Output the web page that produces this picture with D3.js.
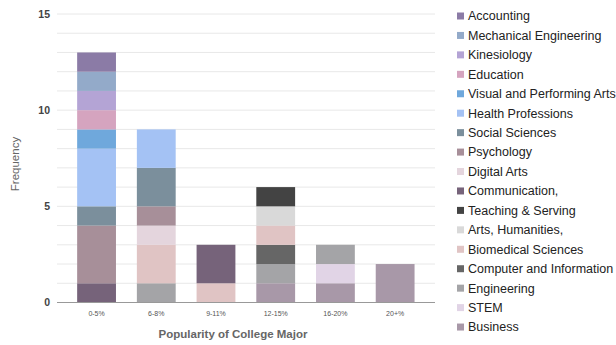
<!DOCTYPE html>
<html>
<head>
<meta charset="utf-8">
<script src="https://cdn.jsdelivr.net/npm/d3@7"></script>
<style>
  html, body { margin: 0; padding: 0; background: #fff; }
  svg { display: block; font-family: Arial, "Liberation Sans", sans-serif; }
</style>
</head>
<body>
<svg id="chart" width="616" height="345"></svg>
<script>
// Popularity buckets on the x axis
const categories = ["0-5%", "6-8%", "9-11%", "12-15%", "16-20%", "20+%"];

// Majors, listed bottom-of-stack first
const majors = [
  "Business", "STEM", "Engineering", "Computer and Information",
  "Biomedical Sciences", "Arts, Humanities,", "Teaching & Serving",
  "Communication,", "Digital Arts", "Psychology", "Social Sciences",
  "Health Professions", "Visual and Performing Arts", "Education",
  "Kinesiology", "Mechanical Engineering", "Accounting"
];

const majorColors = [
  "#a898a8", "#e1d4e6", "#a4a4a7", "#666666",
  "#e0c4c4", "#d9d9d9", "#434343",
  "#76637a", "#e4d5dd", "#a78f99", "#7b8f9c",
  "#a4c2f4", "#6fa8dc", "#d5a4bf",
  "#b4a4d5", "#93aac9", "#8b7ba6"
];

// Frequency of each major per bucket (one array per major, aligned with categories)
const Business        = [0, 0, 0, 1, 1, 2];
const STEM            = [0, 0, 0, 0, 1, 0];
const Engineering     = [0, 1, 0, 1, 1, 0];
const ComputerInfo    = [0, 0, 0, 1, 0, 0];
const Biomedical      = [0, 2, 1, 1, 0, 0];
const ArtsHumanities  = [0, 0, 0, 1, 0, 0];
const TeachingServing = [0, 0, 0, 1, 0, 0];
const Communication   = [1, 0, 2, 0, 0, 0];
const DigitalArts     = [0, 1, 0, 0, 0, 0];
const Psychology      = [3, 1, 0, 0, 0, 0];
const SocialSciences  = [1, 2, 0, 0, 0, 0];
const HealthProf      = [3, 2, 0, 0, 0, 0];
const VisualArts      = [1, 0, 0, 0, 0, 0];
const Education       = [1, 0, 0, 0, 0, 0];
const Kinesiology     = [1, 0, 0, 0, 0, 0];
const MechEng         = [1, 0, 0, 0, 0, 0];
const Accounting      = [1, 0, 0, 0, 0, 0];

const seriesValues = [
  Business, STEM, Engineering, ComputerInfo, Biomedical, ArtsHumanities,
  TeachingServing, Communication, DigitalArts, Psychology, SocialSciences,
  HealthProf, VisualArts, Education, Kinesiology, MechEng, Accounting
];

const yTicks = [0, 5, 10, 15];

// Row objects for d3.stack
const rows = categories.map((c, i) => {
  const r = { category: c };
  majors.forEach((m, j) => { r[m] = seriesValues[j][i]; });
  return r;
});

const svg = d3.select("#chart");

const plotLeft = 57, plotRight = 435;
const x = d3.scaleBand().domain(categories).range([66.7, 425]).paddingInner(0.35).paddingOuter(0.175);
const y = d3.scaleLinear().domain([0, 15]).range([302.5, 14]);
const color = d3.scaleOrdinal().domain(majors).range(majorColors);

// Gridlines: every unit
const grid = svg.append("g");
grid.selectAll("line")
  .data(d3.range(1, 16))
  .join("line")
  .attr("x1", plotLeft).attr("x2", plotRight)
  .attr("y1", d => y(d)).attr("y2", d => y(d))
  .attr("stroke", "#e8e8e8").attr("stroke-width", 1);

// Stacked bars
const stacked = d3.stack().keys(majors)(rows);
svg.append("g")
  .selectAll("g")
  .data(stacked)
  .join("g")
  .attr("fill", d => color(d.key))
  .selectAll("rect")
  .data(d => d.filter(s => s[1] > s[0]))
  .join("rect")
  .attr("x", d => x(d.data.category))
  .attr("width", x.bandwidth())
  .attr("y", d => y(d[1]))
  .attr("height", d => y(d[0]) - y(d[1]));

// Baseline
svg.append("line")
  .attr("x1", plotLeft).attr("x2", plotRight)
  .attr("y1", y(0)).attr("y2", y(0))
  .attr("stroke", "#999").attr("stroke-width", 1);

// Y axis labels
const yAxis = svg.append("g")
  .attr("transform", `translate(${plotLeft - 7},0)`)
  .call(d3.axisLeft(y).tickValues(yTicks).tickSize(0).tickPadding(0));
yAxis.select(".domain").remove();
yAxis.selectAll("text")
  .attr("font-size", 10.5).attr("font-weight", "bold").attr("fill", "#444")
  .attr("font-family", "Arial, 'Liberation Sans', sans-serif");

// X axis labels
const xAxis = svg.append("g")
  .attr("transform", `translate(0,${y(0) + 9})`)
  .call(d3.axisBottom(x).tickSize(0).tickPadding(0));
xAxis.select(".domain").remove();
xAxis.selectAll("text")
  .attr("font-size", 7).attr("fill", "#555")
  .attr("font-family", "Arial, 'Liberation Sans', sans-serif");

// Axis titles
svg.append("text")
  .attr("x", 233).attr("y", 338)
  .attr("text-anchor", "middle")
  .attr("font-size", 11.5).attr("font-weight", "bold").attr("fill", "#666")
  .text("Popularity of College Major");

svg.append("text")
  .attr("transform", `translate(19,164) rotate(-90)`)
  .attr("text-anchor", "middle")
  .attr("font-size", 11.5).attr("fill", "#666")
  .text("Frequency");

// Legend: top entry is the top of the stack
const legendOrder = majors.slice().reverse();
const legend = svg.append("g");
const item = legend.selectAll("g")
  .data(legendOrder)
  .join("g")
  .attr("transform", (d, i) => `translate(457,${16 + i * 19.44})`);
item.append("rect")
  .attr("x", 0).attr("y", -3.5).attr("width", 7).attr("height", 7)
  .attr("fill", d => color(d));
item.append("text")
  .attr("x", 11).attr("y", 0).attr("dy", "0.35em")
  .attr("font-size", 12.5).attr("fill", "#222")
  .text(d => d);
</script>
</body>
</html>
